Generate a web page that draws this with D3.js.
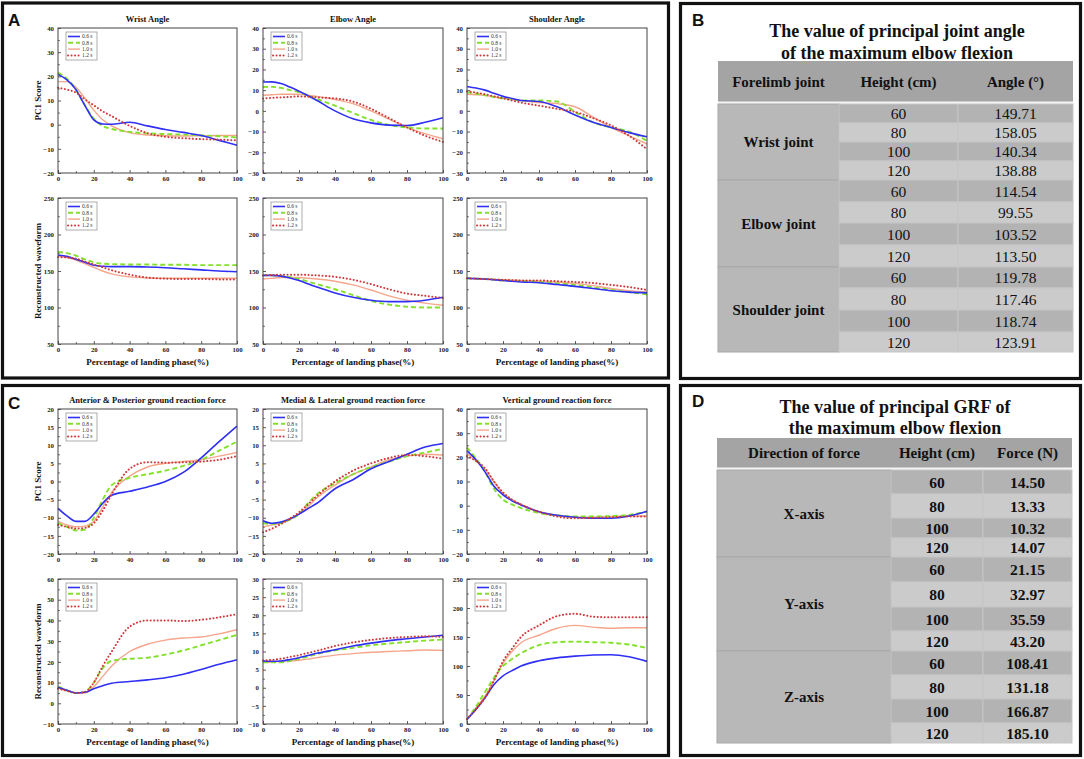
<!DOCTYPE html>
<html><head><meta charset="utf-8">
<script src="https://cdn.jsdelivr.net/npm/d3@7"></script>
<style>body{margin:0;background:#fff}svg{display:block}</style>
</head><body><svg id="c" width="1084" height="759"></svg>
<script>
// ---------------- DATA ----------------
const xPct = [0,5,10,15,20,25,30,40,50,60,70,80,90,100];
const seriesNames = ["0.6 s","0.8 s","1.0 s","1.2 s"];
// each: [0.6 s, 0.8 s, 1.0 s, 1.2 s]
const wristPC1 = [
  [20.8,18.5,14.5,8,2,0.3,0.2,1.0,-0.5,-2,-3.2,-4.5,-6.5,-8.5],
  [21.5,19,14.5,8,2.5,-0.5,-1.8,-3,-3.6,-3.9,-4.1,-4.4,-4.8,-5.3],
  [17.8,17.8,15.5,11,6,2,-0.5,-3.3,-4.3,-4.6,-4.7,-4.6,-4.5,-4.5],
  [15.3,14.5,13.3,10.5,8,5.5,3.5,-0.5,-3.5,-5,-5.6,-6,-6.2,-6.5]];
const elbowPC1 = [
  [13.9,14,13.2,11.5,9.5,7.3,5,0,-3.8,-5.8,-6.9,-7.1,-5.5,-3.3],
  [11.5,11.6,11.1,10,9,7.5,5.7,2.5,-1,-4.4,-6.8,-8,-8.5,-8.5],
  [7.5,7.8,8,8,8,7.6,7,5.5,3.5,0,-4,-8,-11,-13.5],
  [6,6.3,6.5,6.7,7,6.8,6.5,6,4.5,1,-3.5,-8,-12,-15]];
const shoulderPC1 = [
  [11.8,11,10,8.5,7,6,5,4.5,2,-2,-5.5,-8,-10.5,-12.5],
  [9,8.3,7.5,6.7,6,5.5,5,5,4.5,-0.5,-5.5,-8,-10,-14.5],
  [8,7.8,7.5,6.8,6,5.5,5,4,3.5,2,-3,-8,-12,-16],
  [9.5,8.8,8,7,6,5,4,2.5,1,-0.5,-3.5,-7,-12,-18.5]];
const wristRecon = [
  [172,170,166,162,158,156.5,156,156,155.5,154.5,153,151.5,150,149],
  [176,174.5,171,166,162,160,159.5,159,159,158.5,158.5,158,158,158],
  [170,168.5,165,160,155,150,146,142,140.5,140,140,140,140,140],
  [169,168.5,167,163,159,155,151,145,141,139.5,139,139,138.5,138.5]];
const elbowRecon = [
  [144,144,143,140.5,137,132.5,128,120,114,110,108,108,110,114],
  [144,144,143,141.5,139,135.5,132,125,117,109,104,101,100,100],
  [139,140,141,141,141,140,139,136,131,124,116,110,106,103],
  [144,144.5,145,145,145,144.5,144,142,138,132,125,119,116,113]];
const shoulderRecon = [
  [140,139.5,139,138,137,136,135,134,131.5,129,126,123,121,120],
  [140,139.5,139,138,137,136.5,136,135,133,131,127.5,124,121,118],
  [140,139.5,139,138.5,138,137.5,137,136,135,133,130,126,123,121],
  [140,139.5,139,138.5,138,137.5,137,137,136,135,133.5,131,128,124]];
const apPC1 = [
  [-7.4,-9.5,-11,-11,-9,-6,-3.8,-2.7,-1.5,0,2.5,6.5,11,15.3],
  [-11.5,-12.5,-13.5,-13.3,-10,-5,-1,1,2,3,4.3,6,8.5,11],
  [-11,-12,-12.5,-12.3,-11,-7,-3,1.5,4,5,5.5,6,7,8],
  [-12,-12.5,-13,-12.8,-11.5,-8,-3.5,3.5,5.3,5.2,5.3,5.5,6,7]];
const mlPC1 = [
  [-10.8,-11.5,-11.2,-10.3,-9,-7.5,-6,-2,0.5,3.5,5.5,7.5,9.5,10.5],
  [-11.5,-11.7,-11.5,-10.5,-9,-6,-3.5,-0.5,2,4,5.5,7,8,9],
  [-12.5,-12,-11.5,-10.5,-9,-7,-4.5,-1,2,4,6,7,7.5,7.3],
  [-14,-13,-11.7,-10.2,-8.5,-6.3,-4,0,3,5,6.5,7.3,7,6.3]];
const vPC1 = [
  [22.7,19,14,8,4.5,2,0.3,-2.5,-4,-4.8,-5.2,-5.2,-4.3,-2.3],
  [24,19.5,14,7,2.5,0.5,-1,-3,-4,-4.5,-4.5,-4.3,-3.8,-2.5],
  [21.5,18.5,15,10,5,2.5,0.5,-2.5,-4,-4.8,-4.8,-4.5,-4.3,-4.3],
  [20.5,18.5,15.5,10,5.5,2.5,0.5,-2.5,-4.5,-5.2,-5,-4.8,-4.5,-4.5]];
const apRecon = [
  [7.7,6.3,5,5.3,7,8.5,9.7,10.5,11.3,12.3,14,16.3,18.8,21],
  [8,6.3,5,5.5,10,17,20.5,21.5,22,23.5,25.5,28,30.5,33],
  [7.5,6,5,5,8,13,18,25,28.5,30.5,31.5,32,33.5,35.5],
  [7,6,5,5.5,10,18,25,37,40,40,39.7,40.3,41.5,43]];
const mlRecon = [
  [7.4,7.3,7.4,7.8,8.3,8.9,9.5,10.5,11.5,12.3,13,13.5,14,14.5],
  [7,7,7,7.4,8,8.6,9.3,10.3,11,11.7,12.2,12.6,13,13.3],
  [7,7.1,7.3,7.4,7.6,7.9,8.3,9,9.4,9.8,10,10.2,10.4,10.3],
  [7.5,7.7,8,8.5,9,9.6,10.2,11.5,12.5,13.2,13.7,14,14.2,14]];
const vRecon = [
  [8,25,45,68,83,92,100,109,114,117,119,119.5,116,108],
  [8,30,55,80,100,112,122,136,141,142,141,140,137,131],
  [8,28,48,75,105,125,140,153,165,170,167,165,166,166],
  [8,26,45,75,108,130,150,170,186,190,185,184,184,184]];

// tables
const jointNames = ["Wrist joint","Elbow joint","Shoulder joint"];
const heightsCm = ["60","80","100","120"];
const jointAngles = ["149.71","158.05","140.34","138.88","114.54","99.55","103.52","113.50","119.78","117.46","118.74","123.91"];
const forceDirections = ["X-axis","Y-axis","Z-axis"];
const grfForces = ["14.50","13.33","10.32","14.07","21.15","32.97","35.59","43.20","108.41","131.18","166.87","185.10"];

// ---------------- STYLE / LAYOUT ----------------
const svg = d3.select("#c");
const SERIF = "'Liberation Serif','Times New Roman',serif";
const seriesStyle = [
  {color:"#2f2ff5", width:1.6, dash:null, cap:"butt"},
  {color:"#84e02a", width:1.9, dash:"5,3", cap:"butt"},
  {color:"#f5a68c", width:1.4, dash:null, cap:"butt"},
  {color:"#d0383a", width:2.0, dash:"0.1,3.4", cap:"round"}];

const colX = [[58,237],[263,443],[467,647]];
const charts = [
  {data:wristPC1, col:0, y0:28, y1:173, dom:[-20,40], step:10, title:"Wrist Angle", ylab:"PC1 Score"},
  {data:elbowPC1, col:1, y0:28, y1:173, dom:[-30,40], step:10, title:"Elbow Angle"},
  {data:shoulderPC1, col:2, y0:28, y1:173, dom:[-30,40], step:10, title:"Shoulder Angle"},
  {data:wristRecon, col:0, y0:198, y1:344, dom:[50,250], step:50, ylab:"Reconstructed waveform", xlab:true},
  {data:elbowRecon, col:1, y0:198, y1:344, dom:[50,250], step:50, xlab:true},
  {data:shoulderRecon, col:2, y0:198, y1:344, dom:[50,250], step:50, xlab:true},
  {data:apPC1, col:0, y0:409, y1:554, dom:[-20,20], step:5, title:"Anterior & Posterior ground reaction force", ylab:"PC1 Score"},
  {data:mlPC1, col:1, y0:409, y1:554, dom:[-20,20], step:5, title:"Medial & Lateral ground reaction force"},
  {data:vPC1, col:2, y0:409, y1:554, dom:[-20,40], step:10, title:"Vertical ground reaction force"},
  {data:apRecon, col:0, y0:579, y1:724, dom:[-10,60], step:10, ylab:"Reconstructed waveform", xlab:true},
  {data:mlRecon, col:1, y0:579, y1:724, dom:[-10,30], step:5, xlab:true},
  {data:vRecon, col:2, y0:579, y1:724, dom:[0,250], step:50, xlab:true}];

// panel frames
[[2.5,3,666,375],[680.5,3.5,400,375],[2.5,385.5,666,370],[680.5,385.5,400,370]].forEach(r=>{
  svg.append("rect").attr("x",r[0]).attr("y",r[1]).attr("width",r[2]).attr("height",r[3])
    .attr("fill","none").attr("stroke","#111").attr("stroke-width",3.2);
});
[["A",8,26],["B",692,26],["C",8,409],["D",692,407]].forEach(l=>{
  svg.append("text").attr("x",l[1]).attr("y",l[2]).text(l[0])
    .attr("font-family","'Liberation Sans',Arial,sans-serif").attr("font-weight","bold").attr("font-size",17).attr("fill","#111");
});

function drawChart(c){
  const [xa,xb] = colX[c.col];
  const x = d3.scaleLinear().domain([0,100]).range([xa,xb]);
  const y = d3.scaleLinear().domain(c.dom).range([c.y1,c.y0]);
  const g = svg.append("g");
  const majorY = d3.range(c.dom[0], c.dom[1]+0.001, c.step);
  const minorY = d3.range(c.dom[0]+c.step/2, c.dom[1], c.step);
  const majorX = d3.range(0,100.1,20), minorX = d3.range(10,100,20);

  const styleAxis = sel=>{
    sel.select(".domain").remove();
    sel.selectAll("line").attr("stroke","#333").attr("stroke-width",0.8);
    sel.selectAll("text").attr("font-family",SERIF).attr("font-weight","bold").attr("font-size",6.8).attr("fill","#222");
  };
  g.append("g").attr("transform",`translate(0,${c.y1})`)
    .call(d3.axisBottom(x).tickValues(majorX).tickSize(-3).tickPadding(3).tickFormat(d3.format("d"))).call(styleAxis);
  g.append("g").attr("transform",`translate(0,${c.y1})`)
    .call(d3.axisBottom(x).tickValues(minorX).tickSize(-1.8).tickFormat("")).call(styleAxis);
  g.append("g").attr("transform",`translate(${xa},0)`)
    .call(d3.axisLeft(y).tickValues(majorY).tickSize(-3).tickPadding(4).tickFormat(d3.format("d"))).call(styleAxis);
  g.append("g").attr("transform",`translate(${xa},0)`)
    .call(d3.axisLeft(y).tickValues(minorY).tickSize(-1.8).tickFormat("")).call(styleAxis);

  const line = d3.line().x((d,i)=>x(xPct[i])).y(d=>y(d)).curve(d3.curveMonotoneX);
  const order = [2,1,0,3];
  order.forEach(si=>{
    const s = seriesStyle[si];
    g.append("path").datum(c.data[si]).attr("d",line).attr("fill","none")
      .attr("stroke",s.color).attr("stroke-width",s.width).attr("stroke-linecap",s.cap)
      .attr("stroke-dasharray",s.dash);
  });
  // frame
  g.append("rect").attr("x",xa).attr("y",c.y0).attr("width",xb-xa).attr("height",c.y1-c.y0)
    .attr("fill","none").attr("stroke","#444").attr("stroke-width",1);
  // legend
  const lx = xa+8, ly = c.y0+4;
  g.append("rect").attr("x",lx).attr("y",ly).attr("width",31).attr("height",28)
    .attr("fill","#fff").attr("stroke","#999").attr("stroke-width",0.8);
  seriesNames.forEach((n,i)=>{
    const s = seriesStyle[i], yy = ly+4.5+i*6.3;
    g.append("line").attr("x1",lx+2).attr("x2",lx+14).attr("y1",yy).attr("y2",yy)
      .attr("stroke",s.color).attr("stroke-width",s.width).attr("stroke-linecap",s.cap).attr("stroke-dasharray",s.dash);
    g.append("text").attr("x",lx+16).attr("y",yy+1.8).text(n)
      .attr("font-family",SERIF).attr("font-size",5.5).attr("fill","#333");
  });
  if(c.title) g.append("text").attr("x",(xa+xb)/2).attr("y",c.y0-6).attr("text-anchor","middle").text(c.title)
    .attr("font-family",SERIF).attr("font-weight","bold").attr("font-size",8.5).attr("fill","#111");
  if(c.ylab) g.append("text").attr("transform",`translate(${xa-17},${(c.y0+c.y1)/2}) rotate(-90)`)
    .attr("text-anchor","middle").text(c.ylab)
    .attr("font-family",SERIF).attr("font-weight","bold").attr("font-size",9).attr("fill","#111");
  if(c.xlab) g.append("text").attr("x",(xa+xb)/2).attr("y",c.y1+21).attr("text-anchor","middle")
    .text("Percentage of landing phase(%)")
    .attr("font-family",SERIF).attr("font-weight","bold").attr("font-size",9).attr("fill","#111");
}
charts.forEach(drawChart);

// ---------------- TABLES ----------------
function drawTable(t){
  const g = svg.append("g");
  t.titleLines.forEach((s,i)=>g.append("text").attr("x",t.tx).attr("y",t.ty+i*t.tdy).attr("text-anchor","middle")
    .text(s).attr("font-family",SERIF).attr("font-weight","bold").attr("font-size",t.tfs).attr("fill","#111"));
  const [c0,c1,c2,c3] = t.cols;
  g.append("rect").attr("x",c0).attr("y",t.hy0).attr("width",c3-c0).attr("height",t.hy1-t.hy0).attr("fill","#a4a4a4");
  t.headers.forEach((h,i)=>{
    g.append("text").attr("x",(t.cols[i]+t.cols[i+1])/2).attr("y",(t.hy0+t.hy1)/2).attr("dy","0.35em")
      .attr("text-anchor","middle").text(h)
      .attr("font-family",SERIF).attr("font-weight","bold").attr("font-size",15).attr("fill","#111");
  });
  g.append("line").attr("x1",c0).attr("x2",c3).attr("y1",t.hy1+0.5).attr("y2",t.hy1+0.5).attr("stroke","#f4f4f4").attr("stroke-width",2);
  const e = t.edges;
  t.groups.forEach((name,gi)=>{
    const ya = e[gi*4], yb = e[gi*4+4];
    g.append("rect").attr("x",c0).attr("y",ya).attr("width",c1-c0).attr("height",yb-ya)
      .attr("fill","#b8b8b8").attr("stroke","#a8a8a8").attr("stroke-width",1);
    g.append("text").attr("x",(c0+c1)/2).attr("y",(ya+yb)/2).attr("dy","0.35em").attr("text-anchor","middle")
      .text(name).attr("font-family",SERIF).attr("font-weight","bold").attr("font-size",15).attr("fill","#111");
    for(let r=0;r<4;r++){
      const k = gi*4+r, ra = e[k], rb = e[k+1];
      const fill = r%2===0 ? "#b3b3b3" : "#cbcbcb";
      [[c1,c2,heightsCm[r]],[c2,c3,t.values[k]]].forEach(([a,b,txt])=>{
        g.append("rect").attr("x",a).attr("y",ra).attr("width",b-a).attr("height",rb-ra)
          .attr("fill",fill).attr("stroke","#c6c6c6").attr("stroke-width",1);
        g.append("text").attr("x",(a+b)/2).attr("y",(ra+rb)/2).attr("dy","0.38em").attr("text-anchor","middle")
          .text(txt).attr("font-family",SERIF).attr("font-weight",t.valBold?"bold":"normal")
          .attr("font-size",15.5).attr("fill","#111");
      });
    }
  });
}
drawTable({titleLines:["The value of principal joint angle","of the maximum elbow flexion"], tx:897, ty:37, tdy:22, tfs:18,
  cols:[718,839,958,1073], hy0:61, hy1:102, headers:["Forelimb joint","Height (cm)","Angle (°)"],
  edges:[104,123,142,161,180,202,223,245,267,288,310,332,352], groups:jointNames, values:jointAngles, valBold:false});
drawTable({titleLines:["The value of principal GRF of","the maximum elbow flexion"], tx:895, ty:413, tdy:21, tfs:18,
  cols:[717,891,983,1072], hy0:438, hy1:468, headers:["Direction of force","Height (cm)","Force (N)"],
  edges:[470,494,518,538,557,582,607,631,651,675,699,723,743], groups:forceDirections, values:grfForces, valBold:true});
</script></body></html>
